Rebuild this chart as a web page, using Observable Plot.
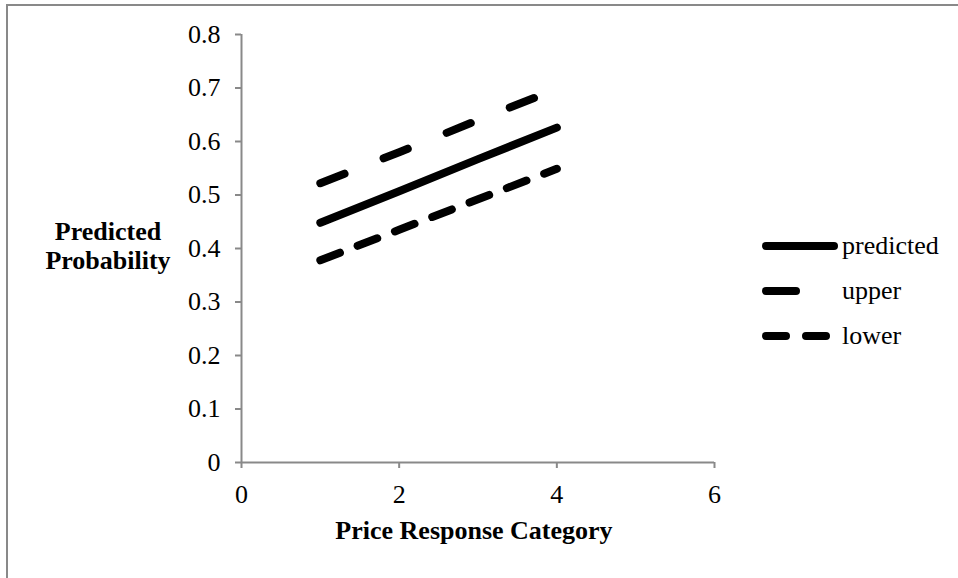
<!DOCTYPE html>
<html>
<head>
<meta charset="utf-8">
<script src="https://cdn.jsdelivr.net/npm/d3@7"></script>
<script src="https://cdn.jsdelivr.net/npm/@observablehq/plot@0.6"></script>
<style>
  html, body { margin: 0; padding: 0; background: #fff; }
  #wrap { position: relative; width: 958px; height: 578px; overflow: hidden; font-family: "Liberation Serif", "Times New Roman", serif; }
  #frame { position: absolute; left: 6px; top: 4px; right: -10px; bottom: -10px; border-left: 2px solid #898989; border-top: 2px solid #898989; }
  #chart { position: absolute; left: 0; top: 0; }
  .title { position: absolute; font-weight: bold; font-size: 26px; color: #000; text-align: center; line-height: 29px; white-space: nowrap; }
  #ytitle { left: 28px; width: 160px; top: 217px; }
  #xtitle { left: 274px; width: 400px; top: 516px; }
  #legend { position: absolute; left: 758px; top: 223px; }
  .item { display: flex; align-items: center; height: 45px; font-size: 26px; color: #000; }
  .item svg { display: block; margin-right: 0; }
</style>
</head>
<body>
<div id="wrap">
  <div id="frame"></div>
  <div id="chart"></div>
  <div id="ytitle" class="title">Predicted<br>Probability</div>
  <div id="xtitle" class="title">Price Response Category</div>
  <div id="legend"></div>
</div>
<script>
// ---- data ----
const categories = [1, 2, 3, 4];
const predicted = [0.448, 0.507, 0.567, 0.626];
const upper = [0.522, 0.580, 0.640, 0.698];
const lower = [0.378, 0.435, 0.492, 0.549];
const seriesNames = ["predicted", "upper", "lower"];
const xTicks = [0, 2, 4, 6];
const yTicks = [0, 0.1, 0.2, 0.3, 0.4, 0.5, 0.6, 0.7, 0.8];

// ---- styles ----
const dashes = { predicted: null, upper: "26,42", lower: "21,19" };
const legendDashes = { predicted: null, upper: "30,60", lower: "20,20" };
const axisGray = "#898989";

const seriesValues = { predicted, upper, lower };
const rows = seriesNames.flatMap(name =>
  categories.map((c, i) => ({ series: name, x: c, y: seriesValues[name][i] }))
);

const xDomain = [xTicks[0], xTicks[xTicks.length - 1]];
const yDomain = [yTicks[0], yTicks[yTicks.length - 1]];

const lineMarks = seriesNames.map(name =>
  Plot.line(rows.filter(r => r.series === name), {
    x: "x", y: "y",
    stroke: "black",
    strokeWidth: 8,
    strokeLinecap: "round",
    strokeLinejoin: "round",
    strokeDasharray: dashes[name]
  })
);

const chart = Plot.plot({
  width: 958,
  height: 578,
  marginLeft: 241,
  marginRight: 244,
  marginTop: 34,
  marginBottom: 116,
  style: { fontFamily: "'Liberation Serif', 'Times New Roman', serif", fontSize: "26px", color: "black", background: "transparent", overflow: "visible" },
  x: { domain: xDomain, ticks: xTicks },
  y: { domain: yDomain, ticks: yTicks },
  marks: [
    Plot.axisX({ ticks: xTicks, tickSize: 6, tickPadding: 16, label: null, stroke: axisGray, strokeWidth: 2, fill: "black", fontSize: 26, tickFormat: d => String(d) }),
    Plot.axisY({ ticks: yTicks, tickSize: 6, tickPadding: 15, label: null, stroke: axisGray, strokeWidth: 2, fill: "black", fontSize: 26, tickFormat: d => String(+d.toFixed(1)) }),
    Plot.ruleY([yDomain[0]], { stroke: axisGray, strokeWidth: 2 }),
    Plot.ruleX([xDomain[0]], { stroke: axisGray, strokeWidth: 2 }),
    ...lineMarks
  ]
});
document.getElementById("chart").appendChild(chart);

// ---- legend ----
const legend = document.getElementById("legend");
seriesNames.forEach(name => {
  const item = document.createElement("div");
  item.className = "item";
  const w = 84;
  const ns = "http://www.w3.org/2000/svg";
  const svg = document.createElementNS(ns, "svg");
  svg.setAttribute("width", w);
  svg.setAttribute("height", 12);
  const ln = document.createElementNS(ns, "line");
  ln.setAttribute("x1", 8);
  ln.setAttribute("x2", w - 8);
  ln.setAttribute("y1", 6);
  ln.setAttribute("y2", 6);
  ln.setAttribute("stroke", "black");
  ln.setAttribute("stroke-width", 8);
  ln.setAttribute("stroke-linecap", "round");
  if (legendDashes[name]) ln.setAttribute("stroke-dasharray", legendDashes[name]);
  svg.appendChild(ln);
  item.appendChild(svg);
  const label = document.createElement("span");
  label.textContent = name;
  item.appendChild(label);
  legend.appendChild(item);
});
</script>
</body>
</html>
